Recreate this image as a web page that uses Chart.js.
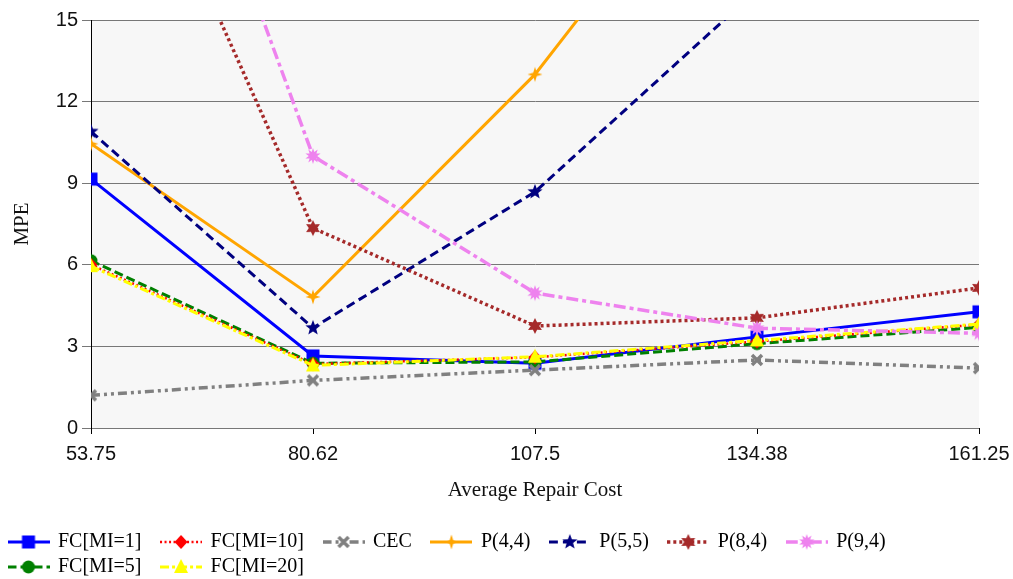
<!DOCTYPE html>
<html>
<head>
<meta charset="utf-8">
<script src="https://cdn.jsdelivr.net/npm/chart.js@4.4.1/dist/chart.umd.min.js"></script>
<style>
  html, body { margin: 0; padding: 0; background: #ffffff; }
  #wrap { width: 1013px; height: 579px; position: relative; }
</style>
</head>
<body>
<div id="wrap"><canvas id="chart" width="1013" height="579"></canvas></div>
<script>
// Categories (average repair cost) and y-axis ticks
const categories = ['53.75', '80.62', '107.5', '134.38', '161.25'];
const yTicks = [0, 3, 6, 9, 12, 15];

// MPE per method
const fcMI1  = [9.15, 2.65, 2.38, 3.35, 4.27];
const fcMI5  = [6.15, 2.38, 2.43, 3.10, 3.70];
const fcMI10 = [6.00, 2.35, 2.60, 3.18, 3.80];
const fcMI20 = [5.95, 2.30, 2.62, 3.22, 3.82];
const cec    = [1.20, 1.75, 2.13, 2.50, 2.20];
const p44    = [10.45, 4.82, 13.00, 23.5, 30.0];
const p55    = [10.90, 3.68, 8.68, 16.1, 20.0];
const p84    = [25.6, 7.35, 3.75, 4.05, 5.15];
const p94    = [32.2, 10.00, 4.96, 3.67, 3.48];

const seriesLabels = ['FC[MI=1]', 'FC[MI=5]', 'FC[MI=10]', 'FC[MI=20]', 'CEC', 'P(4,4)', 'P(5,5)', 'P(8,4)', 'P(9,4)'];
const seriesData = [fcMI1, fcMI5, fcMI10, fcMI20, cec, p44, p55, p84, p94];
const legendOrder = ['FC[MI=1]', 'FC[MI=10]', 'CEC', 'P(4,4)', 'P(5,5)', 'P(8,4)', 'P(9,4)', 'FC[MI=5]', 'FC[MI=20]'];

// Line and marker styles, one per series
const styles = [
  { color: '#0000FF', dash: [],              width: 3,   marker: 'square'   },
  { color: '#008000', dash: [9, 4],          width: 3,   marker: 'circle'   },
  { color: '#FF0000', dash: [2, 2.5],        width: 2.5, marker: 'diamond'  },
  { color: '#FFFF00', dash: [9, 3, 3, 3],    width: 3,   marker: 'triangle' },
  { color: '#808080', dash: [9, 4, 3, 4, 3, 4], width: 3.5, marker: 'cross' },
  { color: '#FFA500', dash: [],              width: 3,   marker: 'star4'    },
  { color: '#000080', dash: [9, 5],          width: 3,   marker: 'star5'    },
  { color: '#A52A2A', dash: [3, 3],          width: 3.5, marker: 'star6'    },
  { color: '#EE82EE', dash: [12, 4, 4, 4],   width: 3.5, marker: 'burst'    }
];

const SERIF = "'Liberation Serif', 'Times New Roman', serif";
const SANS = "'Liberation Sans', Arial, sans-serif";

function starPath(ctx, cx, cy, n, ro, ri) {
  ctx.beginPath();
  for (let k = 0; k < n * 2; k++) {
    const r = k % 2 === 0 ? ro : ri;
    const a = -Math.PI / 2 + k * Math.PI / n;
    const px = cx + r * Math.cos(a), py = cy + r * Math.sin(a);
    if (k === 0) ctx.moveTo(px, py); else ctx.lineTo(px, py);
  }
  ctx.closePath();
  ctx.fill();
}

function drawMarker(ctx, shape, color, cx, cy) {
  ctx.save();
  ctx.setLineDash([]);
  ctx.fillStyle = color;
  ctx.strokeStyle = color;
  const poly = (pts) => {
    ctx.beginPath();
    pts.forEach((p, k) => k ? ctx.lineTo(cx + p[0], cy + p[1]) : ctx.moveTo(cx + p[0], cy + p[1]));
    ctx.closePath();
    ctx.fill();
  };
  switch (shape) {
    case 'square': ctx.fillRect(cx - 6.5, cy - 6.5, 13, 13); break;
    case 'circle': ctx.beginPath(); ctx.arc(cx, cy, 6.5, 0, Math.PI * 2); ctx.fill(); break;
    case 'diamond': poly([[0, -7], [6.5, 0], [0, 7], [-6.5, 0]]); break;
    case 'triangle': poly([[0, -8], [7, 6], [-7, 6]]); break;
    case 'cross':
      ctx.lineWidth = 3.5;
      ctx.beginPath();
      ctx.moveTo(cx - 5, cy - 5); ctx.lineTo(cx + 5, cy + 5);
      ctx.moveTo(cx + 5, cy - 5); ctx.lineTo(cx - 5, cy + 5);
      ctx.stroke();
      break;
    case 'star4': starPath(ctx, cx, cy, 4, 7.5, 2.5); break;
    case 'star5': starPath(ctx, cx, cy, 5, 8, 3.4); break;
    case 'star6': starPath(ctx, cx, cy, 6, 8, 4.2); break;
    case 'burst': starPath(ctx, cx, cy, 10, 8, 4.2); break;
  }
  ctx.restore();
}

function makeCanvas(w, h) {
  const c = document.createElement('canvas');
  c.width = w; c.height = h;
  return c;
}

// Marker images for the data points
const pointImages = styles.map(s => {
  const c = makeCanvas(20, 20);
  drawMarker(c.getContext('2d'), s.marker, s.color, 10, 10);
  return c;
});

// Legend samples: a short stretch of the line with its marker in the middle
const LEGEND_BOX = 39;
const LEGEND_W = 42;
const legendImages = styles.map(s => {
  const c = makeCanvas(LEGEND_W, 20);
  const g = c.getContext('2d');
  g.strokeStyle = s.color;
  g.lineWidth = s.width;
  g.setLineDash(s.dash);
  g.beginPath();
  g.moveTo(0, 10); g.lineTo(LEGEND_W, 10);
  g.stroke();
  drawMarker(g, s.marker, s.color, LEGEND_W / 2, 10);
  return c;
});

const plotBackground = {
  id: 'plotBackground',
  beforeDraw(chart) {
    const { ctx, chartArea: a } = chart;
    ctx.save();
    ctx.fillStyle = '#f7f7f7';
    ctx.fillRect(a.left, a.top, a.right - a.left, a.bottom - a.top);
    ctx.restore();
  }
};

const datasets = seriesLabels.map((label, i) => ({
  label,
  data: seriesData[i],
  borderColor: styles[i].color,
  backgroundColor: styles[i].color,
  borderWidth: styles[i].width,
  borderDash: styles[i].dash,
  pointStyle: pointImages[i],
  pointRadius: 6,
  pointHoverRadius: 6,
  tension: 0,
  fill: false,
  clip: 0,
  order: seriesLabels.length - i
}));

new Chart(document.getElementById('chart'), {
  type: 'line',
  data: { labels: categories, datasets },
  plugins: [plotBackground],
  options: {
    responsive: false,
    animation: false,
    devicePixelRatio: 1,
    events: [],
    layout: { padding: { top: 20, right: 34, bottom: -8, left: 4 } },
    plugins: {
      tooltip: { enabled: false },
      legend: {
        position: 'bottom',
        align: 'start',
        labels: {
          usePointStyle: true,
          pointStyleWidth: LEGEND_BOX,
          padding: 5,
          color: '#000',
          font: { family: SERIF, size: 20 },
          generateLabels: () => legendOrder.map(name => {
            const i = seriesLabels.indexOf(name);
            return {
              text: name + '   ',
              pointStyle: legendImages[i],
              fillStyle: 'transparent',
              strokeStyle: 'transparent',
              lineWidth: 0,
              hidden: false,
              datasetIndex: i,
              fontColor: '#000'
            };
          })
        }
      }
    },
    scales: {
      x: {
        type: 'category',
        offset: false,
        grid: { display: true, drawOnChartArea: false, drawTicks: true, tickLength: 6, color: '#000' },
        border: { display: false },
        ticks: { color: '#111', font: { family: SANS, size: 20 }, padding: 8, maxRotation: 0, autoSkip: false },
        title: { display: true, text: 'Average Repair Cost', color: '#111', font: { family: SERIF, size: 21 }, padding: { top: 0, bottom: 24 } },
        afterFit: (scale) => {
          scale.height = 99;
          scale.paddingLeft = 0;
          scale.paddingRight = 0;
        }
      },
      y: {
        min: 0,
        max: 15,
        afterBuildTicks: (scale) => { scale.ticks = yTicks.map(v => ({ value: v })); },
        grid: { color: '#777', lineWidth: 1, drawTicks: true, tickLength: 9 },
        border: { display: true, color: '#000', width: 1 },
        ticks: { color: '#111', font: { family: SANS, size: 20 }, padding: 4 },
        title: { display: true, text: 'MPE', color: '#111', font: { family: SERIF, size: 21 }, padding: { top: 6, bottom: 0 } },
        afterFit: (scale) => { scale.width = 87; }
      }
    }
  }
});
</script>
</body>
</html>
